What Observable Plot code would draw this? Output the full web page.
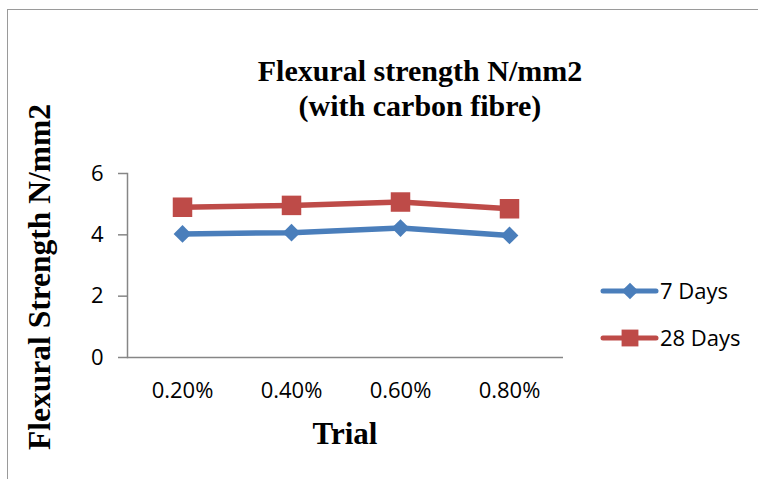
<!DOCTYPE html>
<html><head><meta charset="utf-8">
<script src="https://cdn.jsdelivr.net/npm/d3@7"></script>
<script src="https://cdn.jsdelivr.net/npm/@observablehq/plot@0.6"></script>
<style>
body{margin:0;background:#fff;}
#wrap{position:relative;width:758px;height:479px;overflow:hidden;}
#border{position:absolute;left:7px;top:9px;width:800px;height:600px;border:1.5px solid #9a9a9a;box-sizing:border-box;}
#chart svg{max-width:none;}
</style></head>
<body><div id="wrap"><div id="border"></div><div id="chart" style="position:absolute;left:0;top:0;width:758px;height:479px"></div></div>
<script>
const trials = ["0.20%","0.40%","0.60%","0.80%"];
const days7 = [4.03, 4.07, 4.22, 3.98];
const days28 = [4.90, 4.96, 5.07, 4.85];
const yTicks = [0,2,4,6];
const seriesNames = ["7 Days","28 Days"];
const colors = ["#4a7ebb","#be4b48"];

const d7 = trials.map((t,i)=>({trial:t, v:days7[i]}));
const d28 = trials.map((t,i)=>({trial:t, v:days28[i]}));
const sans = "'Open Sans', 'Liberation Sans', sans-serif";
const serif = "'Liberation Serif', 'Times New Roman', serif";

const chart = Plot.plot({
  width:758, height:479,
  marginLeft:127, marginRight:195, marginTop:173, marginBottom:122,
  style:{fontFamily:sans, fontSize:"22px", background:"transparent", color:"#000"},
  x:{type:"point", domain:trials, padding:0.5},
  y:{domain:[0,6]},
  marks:[
    Plot.axisY({ticks:yTicks, tickFormat:d3.format("d"), tickSize:9, tickPadding:15, label:null, stroke:"#868686", strokeWidth:1.5, fill:"#000"}),
    Plot.axisX({tickSize:0, tickPadding:25, label:null, fill:"#000"}),
    Plot.frame({anchor:"left", stroke:"#868686", strokeWidth:1.5}),
    Plot.ruleY([0], {stroke:"#868686", strokeWidth:1.5}),
    Plot.line(d28, {x:"trial", y:"v", stroke:colors[1], strokeWidth:5.5}),
    Plot.dot(d28, {x:"trial", y:"v", symbol:"square", r:11, fill:colors[1]}),
    Plot.line(d7, {x:"trial", y:"v", stroke:colors[0], strokeWidth:5.5}),
    Plot.dot(d7, {x:"trial", y:"v", symbol:"diamond2", r:8, fill:colors[0]})
  ]
});
document.getElementById("chart").appendChild(chart);

const svg = d3.select(chart);
svg.selectAll("g[aria-label$='tick label']").attr("font-size",22).attr("font-family",sans);
// titles
const t = svg.append("text").attr("text-anchor","middle")
  .attr("font-family",serif).attr("font-weight","bold").attr("font-size",30).attr("fill","#000");
t.append("tspan").attr("x",420).attr("y",81).text("Flexural strength N/mm2");
t.append("tspan").attr("x",420).attr("y",116).text("(with carbon fibre)");
svg.append("text").attr("transform","translate(50,277) rotate(-90)").attr("text-anchor","middle")
  .attr("font-family",serif).attr("font-weight","bold").attr("font-size",31.5).attr("fill","#000")
  .text("Flexural Strength N/mm2");
svg.append("text").attr("x",345).attr("y",444).attr("text-anchor","middle")
  .attr("font-family",serif).attr("font-weight","bold").attr("font-size",31).attr("fill","#000")
  .text("Trial");
// legend
const lg = [{y:291, sym:d3.symbolDiamond2, size:Math.PI*7.5*7.5},{y:338, sym:d3.symbolSquare, size:Math.PI*9.5*9.5}];
lg.forEach((l,i)=>{
  svg.append("line").attr("x1",603).attr("x2",656).attr("y1",l.y).attr("y2",l.y)
    .attr("stroke",colors[i]).attr("stroke-width",5).attr("stroke-linecap","round");
  svg.append("path").attr("d",d3.symbol(l.sym,l.size)()).attr("transform",`translate(630,${l.y})`).attr("fill",colors[i]);
  svg.append("text").attr("x",660).attr("y",l.y).attr("dy","0.36em").attr("text-anchor","start")
    .attr("font-family",sans).attr("font-size",22).attr("fill","#000").text(seriesNames[i]);
});
</script></body></html>
